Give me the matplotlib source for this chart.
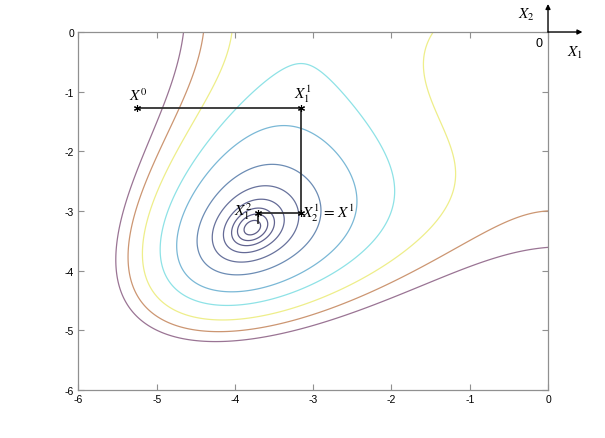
import numpy as np
import matplotlib
matplotlib.use("Agg")
import matplotlib.pyplot as plt

plt.rcParams['font.family'] = ['Liberation Sans', 'DejaVu Sans']
plt.rcParams['mathtext.fontset'] = 'stix'
plt.rcParams['axes.unicode_minus'] = False

# contour levels and colours
levels = [0.6, 2, 4, 8, 16, 32, 64, 100, 150, 200, 250]
level_colors = ['#5e5e88', '#60608c', '#626490', '#646a96', '#68729c',
                '#6c8cb4', '#7ab8d6', '#8ee2e6', '#eeee8a', '#cc9672', '#9a7494']

# coordinate search path (X0 -> X1^1 -> X2^1 -> X1^2 -> ...)
path_x = [-5.25, -3.16, -3.16, -3.71, -3.71]
path_y = [-1.27, -1.27, -3.04, -3.04, -3.21]

x_ticks = [-6, -5, -4, -3, -2, -1, 0]
y_ticks = [-6, -5, -4, -3, -2, -1, 0]


def himmelblau(x, y):
    return (x ** 2 + y - 11) ** 2 + (x + y ** 2 - 7) ** 2


fig = plt.figure(figsize=(6.05, 4.39), dpi=100)
ax = fig.add_axes([0.1296, 0.1098, 0.7762, 0.8150])

gx = np.linspace(-6, 0, 400)
gy = np.linspace(-6, 0, 400)
X, Y = np.meshgrid(gx, gy)
Z = himmelblau(X, Y)
ax.contour(X, Y, Z, levels=levels, colors=level_colors, linewidths=0.9)

# search path
ax.plot(path_x, path_y, color='#303030', lw=1.3)
ax.plot(path_x[:4], path_y[:4], ls='none', marker=(6, 2, 0), color='k',
        ms=5, mew=0.8)

lab = dict(fontsize=11, color='k')
ax.text(path_x[0] + 0.01, path_y[0] + 0.08, r'$X^0$', ha='center', va='bottom', **lab)
ax.text(path_x[1] + 0.03, path_y[1] + 0.06, r'$X_1^1$', ha='center', va='bottom', **lab)
ax.text(path_x[2] + 0.02, path_y[2] + 0.02, r'$X_2^1\,=\,X^1$', ha='left', va='center', **lab)
ax.text(path_x[3] - 0.07, path_y[3] + 0.04, r'$X_1^2$', ha='right', va='center', **lab)

ax.set_xlim(-6, 0)
ax.set_ylim(-6, 0)
ax.set_xticks(x_ticks)
ax.set_yticks(y_ticks)
ax.tick_params(direction='in', top=True, right=True, length=4, width=0.8,
               color='#909090', labelsize=7.5, pad=3)
for s in ax.spines.values():
    s.set_color('#909090')
    s.set_linewidth(0.9)

# small axis sketch at the top right corner
arr = dict(arrowstyle='-|>', color='k', lw=1.0, mutation_scale=7, shrinkA=0, shrinkB=0)
ax.annotate('', xy=(0, 0.47), xytext=(0, 0), arrowprops=arr, annotation_clip=False)
ax.annotate('', xy=(0.44, 0), xytext=(0, 0), arrowprops=arr, annotation_clip=False)
ax.text(-0.27, 0.30, r'$X_2$', ha='center', va='center', fontsize=11, clip_on=False)
ax.text(-0.12, -0.18, '0', ha='center', va='center', fontsize=9, clip_on=False)
ax.text(0.35, -0.33, r'$X_1$', ha='center', va='center', fontsize=11, clip_on=False)

fig.savefig('out.png', dpi=100)
